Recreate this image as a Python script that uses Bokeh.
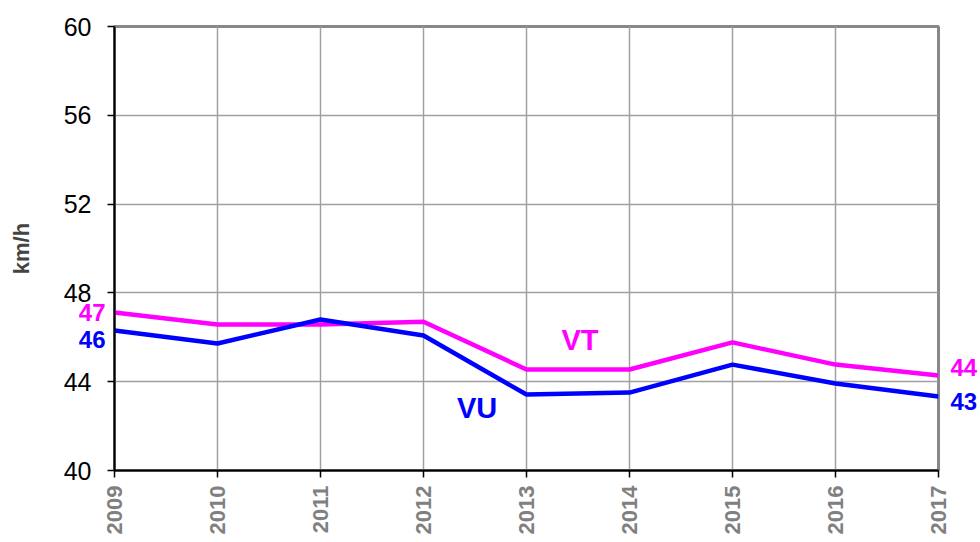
import math
from bokeh.plotting import figure
from bokeh.models import FixedTicker, Label, Range1d, LinearAxis
from bokeh.embed import file_html
from bokeh.resources import INLINE

years = [2009, 2010, 2011, 2012, 2013, 2014, 2015, 2016, 2017]
vt = [47.12, 46.58, 46.58, 46.70, 44.55, 44.55, 45.77, 44.77, 44.28]
vu = [46.31, 45.72, 46.80, 46.08, 43.42, 43.51, 44.77, 43.92, 43.33]
y_ticks = [40, 44, 48, 52, 56, 60]
series_names = ["VT", "VU"]
vt_color = "#FF00FF"
vu_color = "#0000FF"
FONT = "Liberation Sans"

p = figure(width=980, height=542, output_backend="svg", toolbar_location=None,
           x_range=Range1d(2009, 2017), y_range=Range1d(40, 60),
           min_border_left=114, min_border_right=42, min_border_top=26, min_border_bottom=72)
p.outline_line_color = "#888888"
p.outline_line_width = 3

p.xaxis.ticker = FixedTicker(ticks=years)
p.yaxis.ticker = FixedTicker(ticks=y_ticks)
p.xaxis.major_label_orientation = math.pi / 2
p.xaxis.major_label_text_font = FONT
p.xaxis.major_label_text_font_style = "bold"
p.xaxis.major_label_text_color = "#808080"
p.xaxis.major_label_text_font_size = "22px"
p.xaxis.major_label_standoff = 8
p.yaxis.major_label_text_font = FONT
p.yaxis.major_label_text_font_size = "25px"
p.yaxis.major_label_text_color = "black"
p.yaxis.major_label_standoff = 16
for ax in (p.xaxis, p.yaxis):
    ax.axis_line_color = "black"
    ax.axis_line_width = 2
    ax.major_tick_line_color = "black"
    ax.major_tick_line_width = 1.5
    ax.major_tick_in = 0
    ax.major_tick_out = 7
    ax.minor_tick_line_color = None
p.yaxis.axis_label = "km/h"
p.yaxis.axis_label_text_font = FONT
p.yaxis.axis_label_text_font_style = "bold"
p.yaxis.axis_label_text_font_size = "22px"
p.yaxis.axis_label_standoff = 27

p.xgrid.grid_line_color = "#a0a0a0"
p.ygrid.grid_line_color = "#a0a0a0"
p.xgrid.grid_line_width = 1.5
p.ygrid.grid_line_width = 1.5

p.line(years, vt, line_color=vt_color, line_width=4.5)
p.line(years, vu, line_color=vu_color, line_width=4.5)


def end_label_axis(value, shift, color, standoff, side):
    pos = value + shift
    ax = LinearAxis(ticker=FixedTicker(ticks=[pos]),
                    major_label_overrides={pos: str(round(value))},
                    axis_line_color=None, major_tick_line_color=None,
                    minor_tick_line_color=None, major_tick_out=0, major_tick_in=0,
                    major_label_standoff=standoff, major_label_text_color=color,
                    major_label_text_font=FONT, major_label_text_font_style="bold",
                    major_label_text_font_size="24px")
    p.add_layout(ax, side)


# end labels (first / last values)
end_label_axis(vt[0], 0.0, vt_color, -100, "left")
end_label_axis(vu[0], -0.4, vu_color, -100, "left")
end_label_axis(vt[-1], 0.36, vt_color, 12, "right")
end_label_axis(vu[-1], -0.23, vu_color, -30, "right")

p.add_layout(Label(x=2013.52, y=45.86, text=series_names[0], text_color=vt_color, text_align="center",
                   text_baseline="middle", text_font=FONT, text_font_style="bold", text_font_size="29px"))
p.add_layout(Label(x=2012.52, y=42.8, text=series_names[1], text_color=vu_color, text_align="center",
                   text_baseline="middle", text_font=FONT, text_font_style="bold", text_font_size="29px"))

open("out.html", "w").write(file_html(p, INLINE))
